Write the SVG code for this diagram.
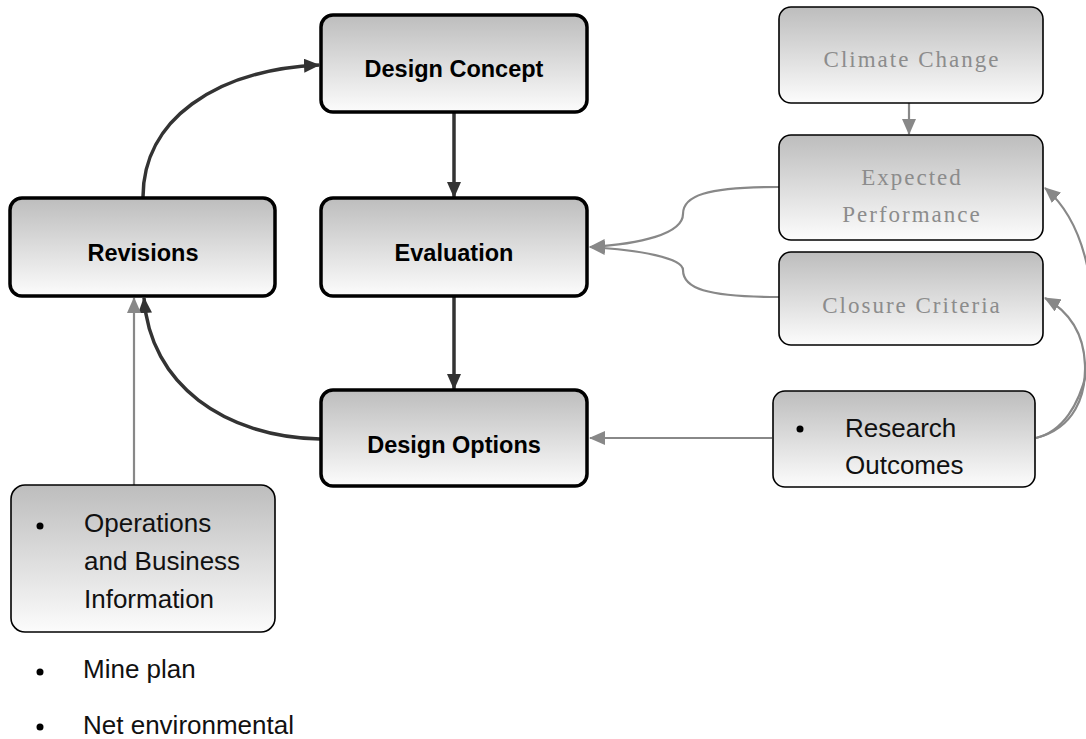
<svg xmlns="http://www.w3.org/2000/svg" width="1086" height="739" viewBox="0 0 1086 739">
<style>
.box{fill:url(#g);}
.main{stroke:#000;stroke-width:3.5;}
.side{stroke:#000;stroke-width:1.6;}
.bt{font-family:"Liberation Sans",Arial,sans-serif;font-weight:bold;font-size:23.5px;fill:#000;text-anchor:middle;}
.st{font-family:"Liberation Serif","Times New Roman",serif;font-size:23px;fill:#8c8c8c;letter-spacing:2px;text-anchor:middle;}
.nt{font-family:"Liberation Sans",Arial,sans-serif;font-size:26px;fill:#111;}
.dk{fill:none;stroke:#333;stroke-width:3.5;}
.gr{fill:none;stroke:#888;stroke-width:2.2;}
</style>
<defs>
<linearGradient id="g" x1="0" y1="0" x2="0" y2="1">
<stop offset="0" stop-color="#bdbdbd"/>
<stop offset="1" stop-color="#fcfcfc"/>
</linearGradient>
<marker id="ad" markerUnits="userSpaceOnUse" markerWidth="16" markerHeight="14" refX="15" refY="7" orient="auto">
<path d="M0,0 L16,7 L0,14 Z" fill="#333"/>
</marker>
<marker id="ag" markerUnits="userSpaceOnUse" markerWidth="16" markerHeight="14" refX="15" refY="7" orient="auto">
<path d="M0,0 L16,7 L0,14 Z" fill="#888"/>
</marker>
</defs>

<g id="connectors">
<path class="dk" d="M143,197 C143,120 215,70 319,65" marker-end="url(#ad)"/>
<path class="dk" d="M454,113 L454,197" marker-end="url(#ad)"/>
<path class="dk" d="M454,297 L454,389" marker-end="url(#ad)"/>
<path class="dk" d="M320,439 C225,437 150,385 144,298" marker-end="url(#ad)"/>
<path class="gr" d="M134,510 L134,298" marker-end="url(#ag)"/>
<path class="gr" d="M772,438 L590,438" marker-end="url(#ag)"/>
<path class="gr" d="M909,103 L909,134" marker-end="url(#ag)"/>
<path class="gr" d="M779,187 C705,187 683,196 683,214 C683,234 640,244 590,247" marker-end="url(#ag)"/>
<path class="gr" d="M779,297 C705,297 683,288 683,270 C683,258 640,250 590,247" marker-end="url(#ag)"/>
<path class="gr" d="M1036,438 C1090,425 1100,330 1088,270 C1080,230 1065,205 1045,188" marker-end="url(#ag)"/>
<path class="gr" d="M1036,438 C1075,428 1086,395 1085,365 C1084,335 1070,312 1045,298" marker-end="url(#ag)"/>
</g>

<g id="design-concept">
<rect class="box main" x="321" y="15" width="266" height="97" rx="12"/>
<text class="bt" x="454" y="77">Design Concept</text>
</g>
<g id="revisions">
<rect class="box main" x="10" y="198" width="265" height="98" rx="12"/>
<text class="bt" x="143" y="261">Revisions</text>
</g>
<g id="evaluation">
<rect class="box main" x="321" y="198" width="266" height="98" rx="12"/>
<text class="bt" x="454" y="261">Evaluation</text>
</g>
<g id="design-options">
<rect class="box main" x="321" y="390" width="266" height="96" rx="12"/>
<text class="bt" x="454" y="453">Design Options</text>
</g>
<g id="climate-change">
<rect class="box side" x="779" y="7" width="264" height="96" rx="12"/>
<text class="st" x="912" y="67">Climate Change</text>
</g>
<g id="expected-performance">
<rect class="box side" x="779" y="135" width="264" height="105" rx="12"/>
<text class="st" x="912" y="185">Expected</text>
<text class="st" x="912" y="222">Performance</text>
</g>
<g id="closure-criteria">
<rect class="box side" x="779" y="252" width="264" height="93" rx="12"/>
<text class="st" x="912" y="313">Closure Criteria</text>
</g>
<g id="research-outcomes">
<rect class="box side" x="773" y="391" width="262" height="96" rx="12"/>
<circle cx="800" cy="429" r="3.5" fill="#000"/>
<text class="nt" x="845" y="437">Research</text>
<text class="nt" x="845" y="474">Outcomes</text>
</g>
<g id="operations">
<rect class="box side" x="11" y="485" width="264" height="147" rx="14"/>
<circle cx="40" cy="526" r="3.5" fill="#000"/>
<text class="nt" x="84" y="532">Operations</text>
<text class="nt" x="84" y="570">and Business</text>
<text class="nt" x="84" y="608">Information</text>
</g>
<g id="list">
<circle cx="40" cy="672" r="3.5" fill="#000"/>
<text class="nt" x="83" y="678">Mine plan</text>
<circle cx="40" cy="727" r="3.5" fill="#000"/>
<text class="nt" x="83" y="734">Net environmental</text>
</g>
</svg>
